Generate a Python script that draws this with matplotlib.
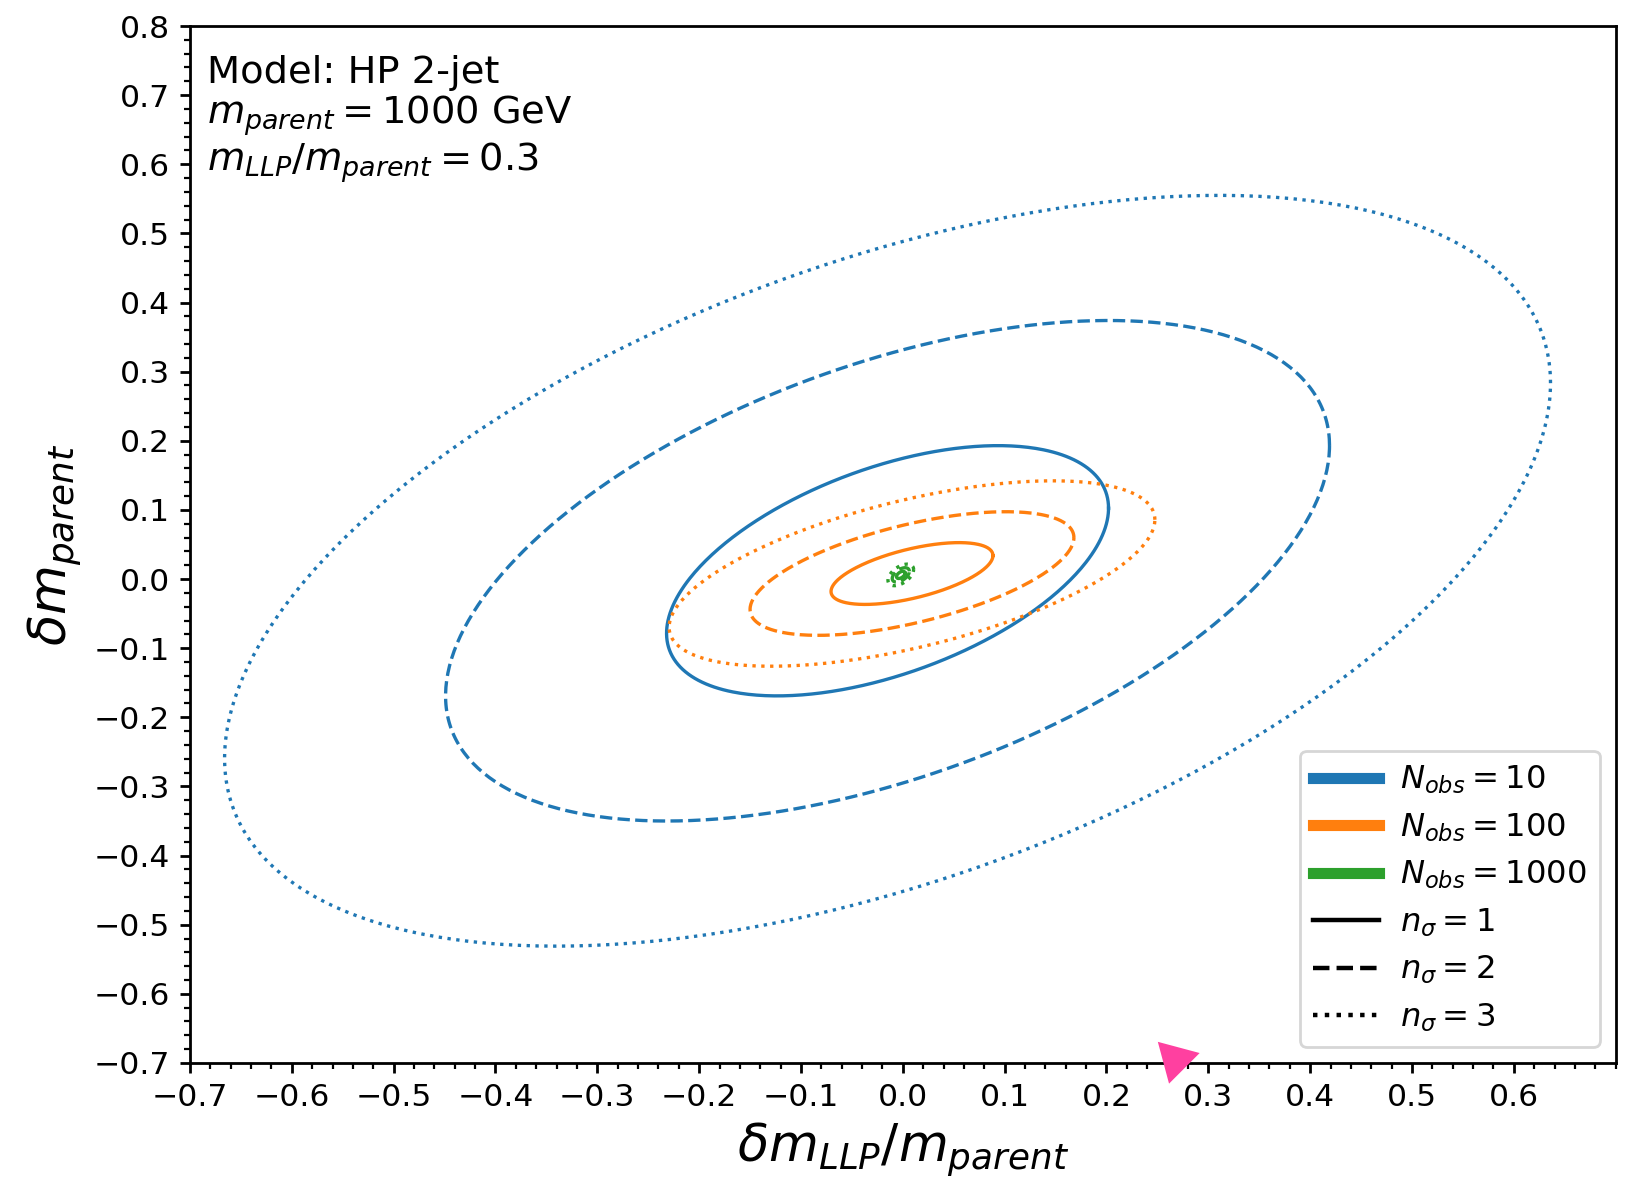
import numpy as np
import matplotlib
matplotlib.use("Agg")
import matplotlib.pyplot as plt
from matplotlib.lines import Line2D
from matplotlib.ticker import AutoMinorLocator

# Fitted uncertainty ellipse parameters for each number of observed events
n_obs = [10, 100, 1000]
colors = ["#1f77b4", "#ff7f0e", "#2ca02c"]
center_x = [-0.015, 0.009, -0.002]
center_y = [0.012, 0.008, 0.006]
sigma_x = [0.217, 0.0795, 0.0042]
sigma_y = [0.181, 0.0447, 0.0052]
rho = [0.50, 0.58, 0.50]

# Contour levels
n_sigma = [1, 2, 3]
line_styles = ["-", "--", ":"]

x_ticks = np.round(np.arange(-0.7, 0.61, 0.1), 1)
y_ticks = np.round(np.arange(-0.7, 0.81, 0.1), 1)


def ellipse_points(cx, cy, sx, sy, r, n, num=400):
    cov = np.array([[sx**2, r * sx * sy], [r * sx * sy, sy**2]])
    chol = np.linalg.cholesky(cov)
    t = np.linspace(0, 2 * np.pi, num)
    circ = np.vstack([np.cos(t), np.sin(t)])
    pts = n * chol @ circ
    return cx + pts[0], cy + pts[1]


fig = plt.figure(figsize=(8.16, 5.91), dpi=200)
ax = fig.add_axes([0.1164, 0.1007, 0.8736, 0.8773])

for i in range(len(n_obs)):
    for n, ls in zip(n_sigma, line_styles):
        xs, ys = ellipse_points(center_x[i], center_y[i], sigma_x[i],
                                sigma_y[i], rho[i], n)
        ax.plot(xs, ys, color=colors[i], linestyle=ls, lw=1.2)

ax.set_xlim(-0.7, 0.7)
ax.set_ylim(-0.7, 0.8)
ax.set_xticks(x_ticks)
ax.set_yticks(y_ticks)
ax.xaxis.set_minor_locator(AutoMinorLocator(5))
ax.yaxis.set_minor_locator(AutoMinorLocator(5))
ax.tick_params(axis="both", which="major", labelsize=11.3, length=3.6, width=1.0)
ax.tick_params(axis="both", which="minor", length=2.3, width=0.8)
for s in ax.spines.values():
    s.set_linewidth(1.0)

ax.set_xlabel(r"$\delta m_{LLP}/m_{parent}$", fontsize=18.4, labelpad=3)
ax.set_ylabel(r"$\delta m_{parent}$", fontsize=18.4, labelpad=4)

ax.text(0.012, 0.972,
        "Model: HP 2-jet\n$m_{parent} = 1000$ GeV\n$m_{LLP}/m_{parent} = 0.3$",
        transform=ax.transAxes, ha="left", va="top", fontsize=13.8,
        linespacing=1.08)

handles = [Line2D([], [], color=c, lw=4) for c in colors]
labels = [f"$N_{{obs}} = {n}$" for n in n_obs]
handles += [Line2D([], [], color="black", lw=1.6, linestyle=ls) for ls in line_styles]
labels += [f"$n_\\sigma = {n}$" for n in n_sigma]
ax.legend(handles, labels, loc="lower right", fontsize=11.6,
          handlelength=2.05, handletextpad=0.65, labelspacing=0.47)

# pointer marker below the axis
ax.plot([0.267], [-0.694], marker=(3, 0, -75), markersize=16,
        color="#ff40a0", clip_on=False, zorder=10)

fig.savefig("out.png", dpi=200)
